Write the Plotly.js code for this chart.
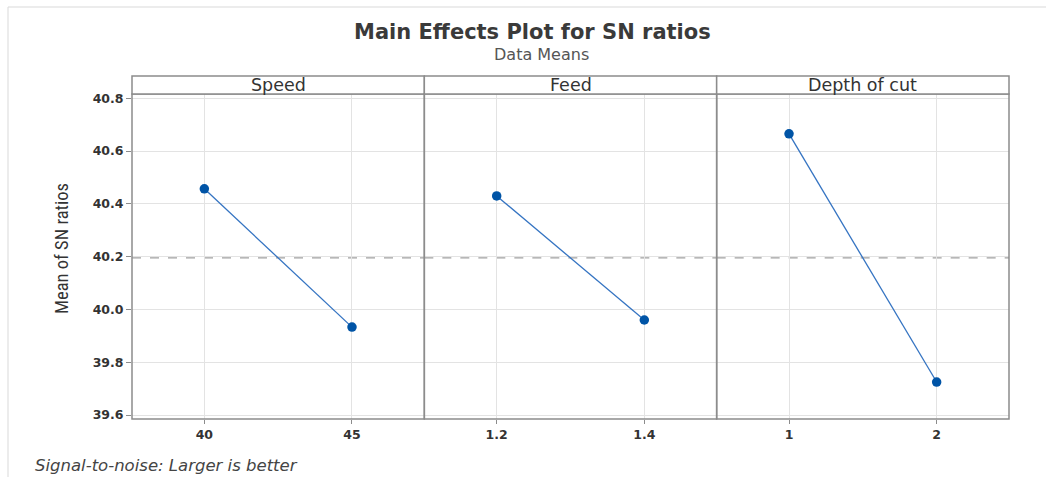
<!DOCTYPE html>
<html>
<head>
<meta charset="utf-8">
<script src="https://cdn.plot.ly/plotly-3.0.1.min.js"></script>
<style>html,body{margin:0;padding:0;background:#fff;}#chart{width:1046px;height:477px;}</style>
</head>
<body>
<div id="chart"></div>
<script>
// Data
const factors = ["Speed", "Feed", "Depth of cut"];
const speedLevels = ["40", "45"];
const speedSN = [40.457, 39.933];
const feedLevels = ["1.2", "1.4"];
const feedSN = [40.430, 39.960];
const depthLevels = ["1", "2"];
const depthSN = [40.665, 39.725];
const yTickVals = [39.6, 39.8, 40.0, 40.2, 40.4, 40.6, 40.8];
const yTickText = ["39.6", "39.8", "40.0", "40.2", "40.4", "40.6", "40.8"];

const levelSets = [speedLevels, feedLevels, depthLevels];
const valueSets = [speedSN, feedSN, depthSN];
const allVals = speedSN.concat(feedSN, depthSN);
const grandMean = allVals.reduce((a, b) => a + b, 0) / allVals.length;

// Layout geometry (pixels)
const W = 1046, H = 477;
const L = 132, R = 37, T = 94, B = 58;
const PW = W - L - R, PH = H - T - B;
const px = x => (x - L) / PW;
const py = y => (H - B - y) / PH;

const FONT = "DejaVu Sans, Open Sans, sans-serif";
const lineColor = "#3574c2";
const markerColor = "#0054a6";
const borderColor = "#8c8c8c";
const gridColor = "#e3e3e3";
const tickFont = {family: FONT, size: 12.5, color: "#333333", weight: 700};

const traces = [];
const shapes = [];
const annotations = [];
const layout = {
  width: W, height: H,
  margin: {l: L, r: R, t: T, b: B, pad: 0},
  paper_bgcolor: "#ffffff", plot_bgcolor: "#ffffff",
  showlegend: false,
  yaxis: {
    range: [39.585, 40.816], tickvals: yTickVals, ticktext: yTickText,
    showgrid: true, gridcolor: gridColor, gridwidth: 1,
    zeroline: false, showline: false,
    ticks: "outside", ticklen: 5, tickcolor: borderColor, tickwidth: 1,
    tickfont: tickFont, anchor: "x", fixedrange: true
  },
  shapes: shapes, annotations: annotations
};

const nP = factors.length;
for (let i = 0; i < nP; i++) {
  const xName = i === 0 ? "x" : "x" + (i + 1);
  const axKey = i === 0 ? "xaxis" : "xaxis" + (i + 1);
  const d0 = i / nP, d1 = (i + 1) / nP;
  layout[axKey] = {
    domain: [d0, d1], anchor: "y",
    range: [-0.49, 1.49], tickvals: [0, 1], ticktext: levelSets[i],
    showgrid: true, gridcolor: gridColor, gridwidth: 1,
    zeroline: false, showline: false,
    ticks: "outside", ticklen: 4, tickcolor: borderColor,
    tickfont: tickFont, fixedrange: true
  };
  traces.push({
    type: "scatter", mode: "lines+markers",
    x: [0, 1], y: valueSets[i],
    xaxis: xName, yaxis: "y",
    line: {color: lineColor, width: 1.3},
    marker: {color: markerColor, size: 9.5, symbol: "circle"},
    hoverinfo: "skip"
  });
  // reference line at the grand mean
  shapes.push({
    type: "line", xref: xName + " domain", yref: "y",
    x0: 0, x1: 1, y0: grandMean, y1: grandMean,
    line: {color: "#a0a0a0", width: 1.2, dash: "dash"}, layer: "below"
  });
  // panel border
  shapes.push({
    type: "rect", xref: "paper", yref: "paper",
    x0: d0, x1: d1, y0: 0, y1: 1,
    line: {color: borderColor, width: 1.5}, fillcolor: "rgba(0,0,0,0)"
  });
  // header strip
  shapes.push({
    type: "rect", xref: "paper", yref: "paper",
    x0: d0, x1: d1, y0: 1, y1: py(76),
    line: {color: borderColor, width: 1.5}, fillcolor: "#ffffff"
  });
  annotations.push({
    xref: "paper", yref: "paper", x: (d0 + d1) / 2, y: py(85.5),
    xanchor: "center", yanchor: "middle", showarrow: false,
    text: factors[i],
    font: {family: FONT, size: 17.5, color: "#333333"}
  });
}

// outer frame lines (left and top)
shapes.push({type: "line", xref: "paper", yref: "paper", x0: px(8), x1: px(8), y0: py(7), y1: py(480),
  line: {color: "#d9d9d9", width: 1}});
shapes.push({type: "line", xref: "paper", yref: "paper", x0: px(8), x1: px(1046), y0: py(7), y1: py(7),
  line: {color: "#d9d9d9", width: 1}});

// titles
annotations.push({
  xref: "paper", yref: "paper", x: px(532), y: py(32), xanchor: "center", yanchor: "middle",
  showarrow: false, text: "Main Effects Plot for SN ratios",
  font: {family: FONT, size: 21, color: "#3a3a3a", weight: 700}
});
annotations.push({
  xref: "paper", yref: "paper", x: px(541), y: py(55), xanchor: "center", yanchor: "middle",
  showarrow: false, text: "Data Means",
  font: {family: FONT, size: 16, color: "#555555"}
});
annotations.push({
  xref: "paper", yref: "paper", x: px(62), y: py(249), xanchor: "center", yanchor: "middle",
  showarrow: false, textangle: -90, text: "Mean of SN ratios",
  font: {family: "Liberation Sans Narrow, Roboto Condensed, DejaVu Sans Condensed, sans-serif", size: 18.5, color: "#333333"}
});
annotations.push({
  xref: "paper", yref: "paper", x: px(33), y: py(465), xanchor: "left", yanchor: "middle",
  showarrow: false, text: "<i>Signal-to-noise: Larger is better</i>",
  font: {family: FONT, size: 16.5, color: "#444444"}
});

Plotly.newPlot("chart", traces, layout, {displayModeBar: false, staticPlot: true});
</script>
</body>
</html>
